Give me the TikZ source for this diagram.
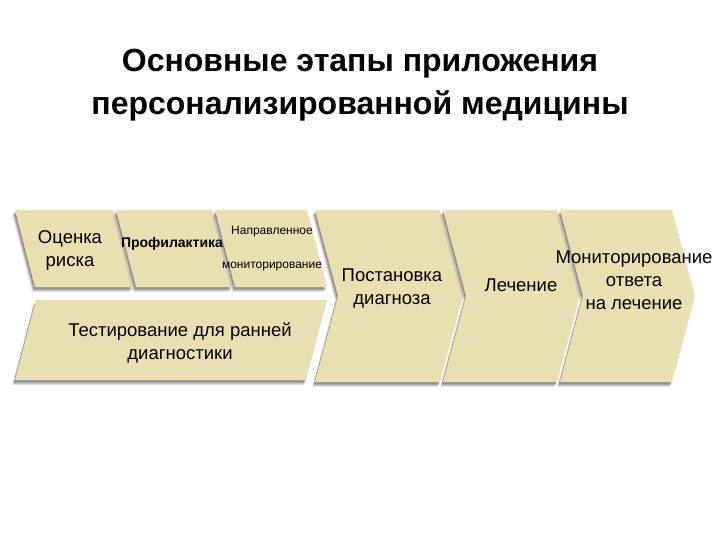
\documentclass[tikz,border=0pt]{standalone}
\usepackage{fontspec}
\setmainfont{Liberation Sans}
\usetikzlibrary{shadows}
\definecolor{beige}{RGB}{232,224,176}
\tikzset{
  stage/.style={fill=beige,
    drop shadow={shadow xshift=-3pt,shadow yshift=-5pt,opacity=.10,fill=black},
    drop shadow={shadow xshift=-2pt,shadow yshift=-4pt,opacity=.12,fill=black},
    drop shadow={shadow xshift=-1.5pt,shadow yshift=-3pt,opacity=.15,fill=black},
    drop shadow={shadow xshift=-1pt,shadow yshift=-2pt,opacity=.15,fill=black}},
  lbl/.style={font=\fontsize{18.5}{23}\selectfont,align=center,inner sep=0pt},
  small/.style={font=\fontsize{12}{14}\selectfont,align=center,inner sep=0pt},
  ttl/.style={font=\fontsize{32}{43}\selectfont\bfseries,inner sep=0pt,anchor=base}
}
\begin{document}
\begin{tikzpicture}[x=1pt,y=-1pt]
\useasboundingbox[fill=white] (0,0) rectangle (720,540);
% title
\node[ttl] (t1) at (360,72) {Основные этапы приложения};
\node[ttl] (t2) at (360,115) {персонализированной медицины};
% left group
\path[stage] (15,210) -- (113,210) -- (133,287) -- (35,287) -- cycle;
\path[stage] (116,210) -- (212,210) -- (232,287) -- (136,287) -- cycle;
\path[stage] (215,210) -- (307,210) -- (327,287) -- (235,287) -- cycle;
\path[stage] (36,300) -- (327,300) -- (306,380) -- (15,380) -- cycle;
% chevrons
\path[stage] (315,210) -- (440,210) -- (463,296) -- (440,382) -- (315,382) -- (338,296) -- cycle;
\path[stage] (443,210) -- (557,210) -- (580,296) -- (557,382) -- (443,382) -- (466,296) -- cycle;
\path[stage] (560,210) -- (672,210) -- (695,296) -- (672,382) -- (560,382) -- (583,296) -- cycle;
% labels
\node[lbl] (risk) at (70,250) {Оценка\\риска};
\node[lbl,font=\fontsize{14}{16}\selectfont\bfseries] (prof) at (172,244) {Профилактика};
\node[small,font=\fontsize{12}{34}\selectfont] (mon) at (272,249) {Направленное\\мониторирование};
\node[lbl] (test) at (180,343) {Тестирование для ранней\\диагностики};
\node[lbl] (diag) at (392,288) {Постановка\\диагноза};
\node[lbl] (treat) at (521,285) {Лечение};
\node[lbl] (resp) at (634,280) {Мониторирование\\ответа\\на лечение};
\end{tikzpicture}
\end{document}
